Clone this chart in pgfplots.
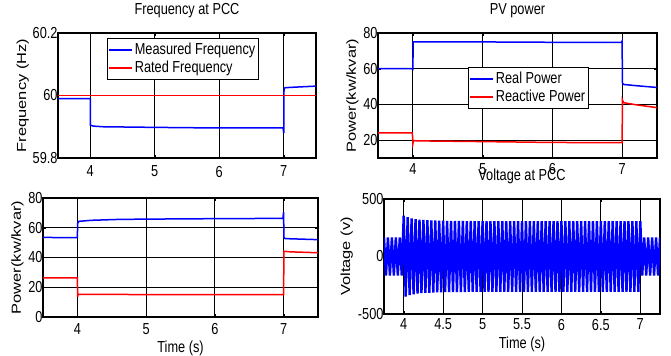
\documentclass[border=0pt]{standalone}
\usepackage{graphicx}
\usepackage{pgfplots}
\pgfplotsset{compat=1.18}
\usepackage{fontspec}
\setmainfont{Liberation Sans}[FakeStretch=0.8]
\newfontfamily\plainsans{Liberation Sans}
\newcommand{\fh}{\fontsize{16}{18}\selectfont}
\newcommand{\fv}{\plainsans\fontsize{16.5}{18}\selectfont}
\newcommand{\vl}[1]{\scalebox{1}[0.8]{#1}}
\pgfplotsset{
  every axis/.append style={
    scale only axis,
    /pgf/number format/assume math mode=true,
    tick label style={font=\fh},
    xlabel style={font=\fh},
    ylabel style={font=\fv},
    title style={font=\fh, at={(0.5,1)}, anchor=base, yshift=12.5bp},
    axis line style={line width=1.3bp},
    grid=major,
    major grid style={black, line width=0.8bp},
    major tick length=3bp,
    tick style={black},
    yticklabel style={xshift=3bp},
    legend cell align=left,
    legend style={font=\fh, draw=black, line width=0.8bp, fill=white,
      inner xsep=1bp, inner ysep=3bp, row sep=1bp,
      nodes={inner sep=2bp}},
    legend image code/.code={\draw[#1, line width=1.4bp] (0bp,0bp) -- (23bp,0bp);},
  }
}
\begin{document}
\begin{tikzpicture}
\useasboundingbox (0,0) rectangle (671bp,356bp);

% Panel 1
\begin{axis}[at={(58bp,198bp)}, anchor=south west, width=258bp, height=125bp,
  xmin=3.5, xmax=7.5, ymin=59.8, ymax=60.2,
  xtick={4,5,6,7}, ytick={59.8,60,60.2},
  xticklabel style={yshift=-4.5bp},
  title={Frequency at PCC},
  ylabel={\vl{Frequency (Hz)}},
  ylabel style={at={(axis description cs:-0.124,0.5)}, anchor=base},
  legend style={at={(0.19,0.96)}, anchor=north west}]
\addplot[blue, line width=1.5bp] coordinates {
 (3.5,59.99) (3.99,59.99) (4.0,59.99) (4.003,59.905) (4.05,59.902) (4.2,59.900)
 (5,59.898) (6,59.896) (6.99,59.896) (7.0,59.88) (7.004,60.02) (7.02,60.025)
 (7.2,60.027) (7.5,60.03)};
\addlegendentry{Measured Frequency}
\addplot[red, line width=1.5bp] coordinates {(3.5,60) (7.5,60)};
\addlegendentry{Rated Frequency}
\end{axis}

% Panel 2
\begin{axis}[at={(378bp,198bp)}, anchor=south west, width=279bp, height=125bp,
  xmin=3.5, xmax=7.5, ymin=10, ymax=80,
  xtick={4,5,6,7}, ytick={20,40,60,80},
  xticklabel style={yshift=-2bp},
  title={PV power},
  ylabel={\vl{Power(kw/kvar)}},
  ylabel style={at={(axis description cs:-0.079,0.5)}, anchor=base},
  legend style={at={(0.323,0.728)}, anchor=north west}]
\addplot[blue, line width=1.5bp] coordinates {
 (3.5,60) (3.99,60) (3.995,59.5) (4.0,59.5) (4.004,75) (4.1,75) (5,75) (6,74.8)
 (6.99,74.8) (7.0,75.5) (7.004,52) (7.02,51.2) (7.2,50.5) (7.5,49.5)};
\addlegendentry{Real Power}
\addplot[red, line width=1.5bp] coordinates {
 (3.5,24) (3.99,24) (3.995,22.5) (4.0,18) (4.01,19.8) (4.05,19.6) (5,19.2)
 (6,18.7) (6.99,18.6) (7.0,18.6) (7.004,42.5) (7.02,41) (7.2,39.8) (7.5,38.2)};
\addlegendentry{Reactive Power}
\end{axis}

% Panel 3
\begin{axis}[at={(43bp,39bp)}, anchor=south west, width=275bp, height=119bp,
  xmin=3.5, xmax=7.5, ymin=0, ymax=80,
  xtick={4,5,6,7}, ytick={0,20,40,60,80},
  xticklabel style={yshift=-3bp},
  xlabel={Time (s)},
  xlabel style={at={(axis description cs:0.5,0)}, anchor=base, yshift=-35bp},
  ylabel={\vl{Power(kw/kvar)}},
  ylabel style={at={(axis description cs:-0.08,0.5)}, anchor=base}]
\addplot[blue, line width=1.5bp] coordinates {
 (3.5,53.5) (3.99,53.3) (4.0,53.3) (4.004,63) (4.02,64.3) (4.2,65) (4.6,65.6)
 (5,65.8) (6,66.1) (6.99,66.3) (7.0,70.5) (7.004,53.5) (7.02,52.7) (7.5,52)};
\addplot[red, line width=1.5bp] coordinates {
 (3.5,26.3) (3.99,26.3) (4.0,26.3) (4.004,13.5) (4.01,15.2) (5,15.1) (6,15.1)
 (6.99,15.1) (7.0,15.1) (7.004,44.2) (7.1,43.8) (7.5,43.2)};
\end{axis}

% Panel 4
\begin{axis}[at={(384bp,42bp)}, anchor=south west, width=276bp, height=115bp,
  xmin=3.75, xmax=7.25, ymin=-500, ymax=500,
  xtick={4,4.5,5,5.5,6,6.5,7}, ytick={-500,0,500},
  xticklabel style={yshift=-1.5bp},
  title={Voltage at PCC},
  xlabel={Time (s)},
  xlabel style={at={(axis description cs:0.5,0)}, anchor=base, yshift=-34.5bp},
  ylabel={\vl{Voltage (v)}},
  ylabel style={at={(axis description cs:-0.123,0.5)}, anchor=base}]
\addplot[blue, line width=2.4bp, line join=bevel] coordinates {
 (3.750,165) (3.775,-165) (3.800,165) (3.825,-165) (3.850,165) (3.875,-165)
 (3.900,165) (3.925,-165) (3.950,165) (3.975,-165)
 (4.000,355) (4.025,-348) (4.050,342) (4.075,-336) (4.100,331) (4.125,-328)
 (4.150,325) (4.175,-323) (4.200,321) (4.225,-319) (4.250,318) (4.275,-317)
 (4.300,316) (4.325,-315) (4.350,314) (4.375,-313) (4.400,313) (4.425,-312)
 (4.450,312) (4.475,-311) (4.500,311) (4.525,-310) (4.550,310) (4.575,-310)
 (4.600,309) (4.625,-309) (4.650,309) (4.675,-309) (4.700,309) (4.725,-309)
 (4.750,309) (4.775,-309) (4.800,308) (4.825,-308) (4.850,309) (4.875,-308)
 (4.900,308) (4.925,-308) (4.950,308) (4.975,-308)
 (5.000,308) (5.025,-308) (5.050,308) (5.075,-308) (5.100,308) (5.125,-308)
 (5.150,308) (5.175,-308) (5.200,308) (5.225,-308) (5.250,308) (5.275,-308)
 (5.300,308) (5.325,-308) (5.350,308) (5.375,-308) (5.400,308) (5.425,-308)
 (5.450,308) (5.475,-308) (5.500,308) (5.525,-308) (5.550,308) (5.575,-308)
 (5.600,308) (5.625,-308) (5.650,308) (5.675,-308) (5.700,308) (5.725,-308)
 (5.750,308) (5.775,-308) (5.800,308) (5.825,-308) (5.850,308) (5.875,-308)
 (5.900,308) (5.925,-308) (5.950,308) (5.975,-308)
 (6.000,308) (6.025,-308) (6.050,308) (6.075,-308) (6.100,308) (6.125,-308)
 (6.150,308) (6.175,-308) (6.200,308) (6.225,-308) (6.250,308) (6.275,-308)
 (6.300,308) (6.325,-308) (6.350,308) (6.375,-308) (6.400,308) (6.425,-308)
 (6.450,308) (6.475,-308) (6.500,308) (6.525,-308) (6.550,308) (6.575,-308)
 (6.600,308) (6.625,-308) (6.650,308) (6.675,-308) (6.700,308) (6.725,-308)
 (6.750,308) (6.775,-308) (6.800,308) (6.825,-308) (6.850,308) (6.875,-308)
 (6.900,308) (6.925,-308) (6.950,308) (6.975,-308)
 (7.000,308) (7.025,-165) (7.050,165) (7.075,-165) (7.100,165) (7.125,-165)
 (7.150,165) (7.175,-165) (7.200,165) (7.225,-165) (7.250,165)};
\end{axis}
\end{tikzpicture}
\end{document}
